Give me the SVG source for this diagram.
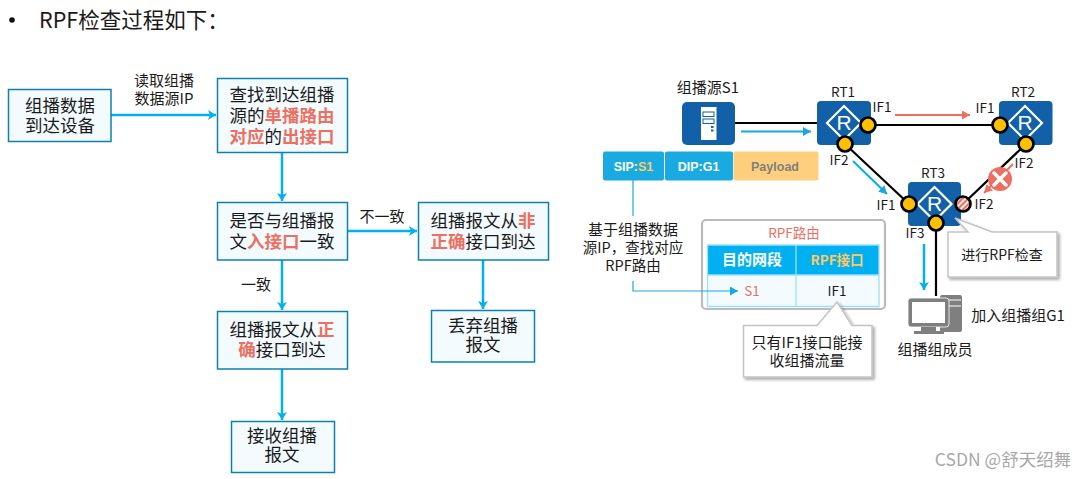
<svg xmlns="http://www.w3.org/2000/svg" width="1087" height="479" viewBox="0 0 1087 479">
<style>
text{font-family:"Noto Sans CJK SC","Liberation Sans",sans-serif;fill:#1a1a1a;text-anchor:middle}
.box{fill:#f3fbff;stroke:#0e80ad;stroke-width:1.5}
.t{font-size:17.5px}
.s{font-size:15px}
.m{font-size:13.500px}
.h{fill:#ee6f60;font-weight:700}
.p{fill:#fff;font-family:"Liberation Sans",sans-serif;font-size:12.500px;font-weight:700}
.flow{stroke:#00b0f0;stroke-width:2.5;fill:none;marker-end:url(#fa)}
.link{stroke:#000;stroke-width:2.2;fill:none}
.rt{fill:#1160a8}
.dm{fill:none;stroke:#fff;stroke-width:2.2}
.rl{fill:#fff;font-size:21px;font-family:"Liberation Sans",sans-serif}
.port{fill:#ffc000;stroke:#000;stroke-width:2.7}
.co{fill:#fff;stroke:#c4c4c4;stroke-width:1.5;filter:url(#sh)}
</style>
<defs>
<marker id="fa" markerUnits="userSpaceOnUse" markerWidth="10" markerHeight="10" refX="8" refY="5" orient="auto"><path d="M0 0L8 5L0 10L2 5Z" fill="#00b0f0"/></marker>
<marker id="ba" markerUnits="userSpaceOnUse" markerWidth="9" markerHeight="9" refX="8" refY="4.5" orient="auto"><path d="M0 0L8 4.5L0 9Z" fill="#1aa7e0"/></marker>
<marker id="ra" markerUnits="userSpaceOnUse" markerWidth="9" markerHeight="9" refX="8" refY="4.5" orient="auto"><path d="M0 0L8 4.5L0 9Z" fill="#ee6f60"/></marker>
<filter id="sh" x="-15%" y="-15%" width="130%" height="130%"><feDropShadow dx="2" dy="2" stdDeviation="1.5" flood-color="#000" flood-opacity=".35"/></filter>
<pattern id="hatch" width="4" height="4" patternUnits="userSpaceOnUse" patternTransform="rotate(-45)"><rect width="4" height="4" fill="#fff"/><rect width="4" height="2.2" fill="#ee6f60"/></pattern>
</defs>
<g id="title">
<circle cx="12" cy="20" r="2.8" fill="#111"/>
<text x="39" y="28" style="text-anchor:start;font-size:21.500px">RPF检查过程如下：</text>
</g>
<g id="rpf-table">
<rect x="702" y="220" width="183" height="89" rx="4" fill="#fff" stroke="#bbb" stroke-width="2.200"/>
<text class="m" x="794" y="238" style="fill:#ee6f60">RPF路由</text>
<rect x="707.500" y="245" width="171.500" height="30" fill="#00b0f0"/>
<rect x="707.500" y="275" width="171.500" height="31.500" fill="#f3fbff"/>
<path d="M707.500 245H879V306.500H707.500ZM796 245V306.500M707.500 275H879" fill="none" stroke="#9ce0f8" stroke-width="1.300"/>
<text x="752" y="265" style="font-size:15px;fill:#fff;font-weight:700">目的网段</text>
<text x="837" y="265" style="font-size:13.500px;fill:#ffc95f;font-weight:700">RPF接口</text>
<text class="m" x="752" y="295.500" style="fill:#ee6f60">S1</text>
<text class="m" x="837" y="295.500">IF1</text>
</g>
<g id="connectors">
<path class="flow" d="M111 115H216"/>
<path class="flow" d="M282 152.500V201"/>
<path class="flow" d="M347.500 231H417"/>
<path class="flow" d="M282 260V310"/>
<path class="flow" d="M282 369V420"/>
<path class="flow" d="M483 260V309"/>
<path class="link" d="M735 123H817M868 125H1000M845 144L909 204M1026 144L963 204M936 223V296"/>
<path d="M741 131.500H811" stroke="#1aa7e0" stroke-width="2" fill="none" marker-end="url(#ba)"/>
<path d="M895 115H970" stroke="#ee6f60" stroke-width="2" fill="none" marker-end="url(#ra)"/>
<path d="M853 161L887 194" stroke="#00b0f0" stroke-width="2" fill="none" marker-end="url(#ba)"/>
<path d="M1013 164L984 193" stroke="#ee6f60" stroke-width="2" fill="none" marker-end="url(#ra)"/>
<path d="M924 244V290" stroke="#00b0f0" stroke-width="2.500" fill="none" marker-end="url(#fa)"/>
<path d="M633 180V216" stroke="#1aa7e0" stroke-width="1.200" fill="none"/>
<path d="M633 281V291H738" stroke="#1aa7e0" stroke-width="1.200" fill="none" marker-end="url(#ba)"/>
</g>
<g id="n1"><rect class="box" x="8.500" y="89.500" width="102.500" height="52"/><text class="t" x="60" y="111.500">组播数据</text><text class="t" x="60" y="131.500">到达设备</text></g>
<g id="n2"><rect class="box" x="217.500" y="78.500" width="130" height="74"/><text class="t" x="282" y="101">查找到达组播</text><text class="t" x="282" y="122">源的<tspan class="h">单播路由</tspan></text><text class="t" x="282" y="143"><tspan class="h">对应</tspan>的<tspan class="h">出接口</tspan></text></g>
<g id="n3"><rect class="box" x="217.500" y="202.500" width="130" height="57.500"/><text class="t" x="282" y="227">是否与组播报</text><text class="t" x="282" y="248">文<tspan class="h">入接口</tspan>一致</text></g>
<g id="n4"><rect class="box" x="217.500" y="311.500" width="130" height="57.500"/><text class="t" x="282" y="336">组播报文从<tspan class="h">正</tspan></text><text class="t" x="282" y="356"><tspan class="h">确</tspan>接口到达</text></g>
<g id="n5"><rect class="box" x="231.500" y="421.500" width="103" height="51"/><text class="t" x="282" y="442">接收组播</text><text class="t" x="282" y="461">报文</text></g>
<g id="n6"><rect class="box" x="418.500" y="202.500" width="130" height="57.500"/><text class="t" x="483" y="227">组播报文从<tspan class="h">非</tspan></text><text class="t" x="483" y="248"><tspan class="h">正确</tspan>接口到达</text></g>
<g id="n7"><rect class="box" x="431.500" y="310.500" width="103" height="51.500"/><text class="t" x="483" y="332">丢弃组播</text><text class="t" x="483" y="351">报文</text></g>
<g id="labels">
<text class="s" x="164" y="86">读取组播</text><text class="s" x="164" y="104">数据源IP</text>
<text class="s" x="382" y="222">不一致</text>
<text class="s" x="256" y="290">一致</text>
</g>
<g id="source">
<text class="s" x="708" y="93">组播源S1</text>
<rect x="682" y="102" width="53" height="43" rx="5" fill="#1160a8"/>
<rect x="701" y="107" width="15.500" height="33" fill="#fff"/>
<rect x="703" y="112" width="11" height="4.500" fill="#fff" stroke="#1160a8" stroke-width="1"/>
<rect x="703" y="119" width="11" height="4.500" fill="#fff" stroke="#1160a8" stroke-width="1"/>
<rect x="711" y="126" width="2.500" height="2" fill="#1160a8"/><rect x="711" y="129.500" width="2.500" height="2" fill="#1160a8"/>
</g>
<g id="packet">
<rect x="603" y="151.500" width="61" height="29" rx="2" fill="#1aaae2"/>
<rect x="665" y="151.500" width="68" height="29" rx="2" fill="#1aaae2"/>
<rect x="733.500" y="151.500" width="85" height="29" rx="2" fill="#ffcf7d"/>
<text class="p" x="633.500" y="170.500">SIP:<tspan style="fill:#ffc95f">S1</tspan></text>
<text class="p" x="698.500" y="170.500">DIP:G1</text>
<text class="p" x="775" y="170.500" style="fill:#7f7f7f">Payload</text>
</g>
<g id="rt1"><rect class="rt" x="817" y="101" width="54" height="44" rx="4"/><path class="dm" d="M844 106L861 123L844 140L827 123Z"/><text class="rl" x="844" y="130">R</text><circle class="port" cx="868" cy="125" r="7.500"/><circle class="port" cx="845" cy="144" r="7.500"/><text class="m" x="843" y="97">RT1</text><text class="m" x="882" y="112">IF1</text><text class="m" x="839" y="165">IF2</text></g>
<g id="rt2"><rect class="rt" x="999" y="101" width="53.500" height="44" rx="4"/><path class="dm" d="M1025 106L1042 123L1025 140L1008 123Z"/><text class="rl" x="1025" y="130">R</text><circle class="port" cx="1000" cy="125" r="7.500"/><circle class="port" cx="1026" cy="144" r="7.500"/><text class="m" x="1023" y="97">RT2</text><text class="m" x="985" y="113">IF1</text><text class="m" x="1024" y="168">IF2</text></g>
<g id="rt3"><rect class="rt" x="908" y="182" width="53" height="44" rx="4"/><path class="dm" d="M934.500 187L951.500 204L934.500 221L917.500 204Z"/><text class="rl" x="934.500" y="211">R</text><circle class="port" cx="909" cy="204" r="7.500"/><circle cx="963" cy="204" r="7.500" fill="url(#hatch)" stroke="#000" stroke-width="2.700"/><circle class="port" cx="936" cy="223" r="7.500"/><text class="m" x="933" y="178">RT3</text><text class="m" x="886" y="210">IF1</text><text class="m" x="984" y="209">IF2</text><text class="m" x="915" y="238">IF3</text></g>
<g id="block"><circle cx="1000" cy="179" r="12" fill="#ee6f60"/><path d="M994 173L1006 185M1006 173L994 185" stroke="#fff" stroke-width="3.500" stroke-linecap="round"/></g>
<g id="note-lookup"><text class="s" x="633" y="235">基于组播数据</text><text class="s" x="633" y="253" style="font-size:14.500px">源IP，查找对应</text><text class="s" x="633" y="271" style="font-size:14.500px">RPF路由</text></g>
<g id="callout-if1"><path class="co" d="M743.500 325.500H817L837 302L852 325.500H872V377H743.500Z"/><text class="s" x="807" y="348">只有IF1接口能接</text><text class="s" x="807" y="366">收组播流量</text></g>
<g id="callout-check"><path class="co" d="M948 232H968L955 218L992 232H1057V277H948Z"/><text x="1002" y="260" style="font-size:14px">进行RPF检查</text></g>
<g id="member">
<rect x="940" y="295" width="22" height="37" rx="2" fill="#7f7f7f"/>
<path d="M949 300H961M949 306H961" stroke="#fff" stroke-width="1" fill="none"/>
<rect x="908" y="298" width="41" height="29" rx="3" fill="#7f7f7f" stroke="#fff" stroke-width=".8"/>
<rect x="912" y="302" width="33" height="21" fill="#fff"/>
<path d="M921 327H936V331H944V334H914V331H921Z" fill="#7f7f7f"/>
<text class="s" x="1018" y="321">加入组播组G1</text>
<text class="s" x="935" y="355">组播组成员</text>
</g>
<text id="watermark" x="1003" y="466" style="font-size:17.500px;fill:#a8a8a8">CSDN @舒天绍舞</text>
</svg>
